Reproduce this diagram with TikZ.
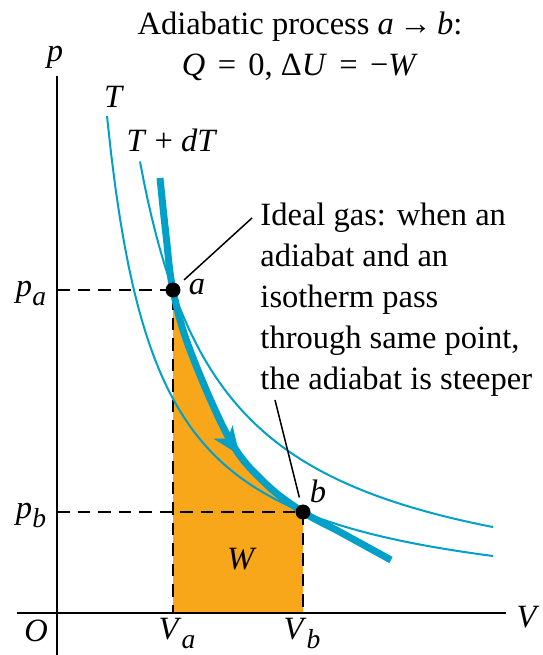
\documentclass[tikz,border=0pt]{standalone}
\usepackage{fontspec}
\setmainfont{Liberation Serif}
\usetikzlibrary{arrows.meta,decorations.markings}
\definecolor{isoblue}{RGB}{0,160,200}
\definecolor{workfill}{RGB}{248,166,26}
\newcommand{\sublbl}[1]{\raisebox{-3.5pt}{\fontsize{11}{11}\selectfont\textit{#1}}}
\newcommand{\eqsp}{\hspace{0.38em}}

\begin{document}
\begin{tikzpicture}[
  x=0.4pt, y=0.4pt,
  font=\fontsize{13}{16.4}\selectfont,
  >=Stealth,
  axis/.style={line width=0.8pt},
  iso/.style={isoblue, line width=0.8pt},
  adia/.style={isoblue, line width=2.8pt},
  guide/.style={line width=0.8pt, dash pattern=on 5pt off 3.2pt},
  dot/.style={circle, fill=black, inner sep=0pt, minimum size=6pt},
  lead/.style={line width=0.6pt, shorten >=6pt},
  lbl/.style={inner sep=0pt, anchor=base},
]
  \useasboundingbox (0,0) rectangle (542,655);

  \coordinate (O) at (57,42);
  \coordinate (ptop) at (57,579);
  \coordinate (pbot) at (57,0);
  \coordinate (Vleft) at (17,42);
  \coordinate (Vright) at (506,42);
  \coordinate (a) at (173,365);
  \coordinate (b) at (303,143);

  % work done: area under the adiabat
  \begin{scope}[shift={(O)}]
    \fill[workfill] (116,0) -- plot[domain=116:246, samples=40]
      (\x,{101*(246/\x)^1.5465}) -- (246,0) -- cycle;
  \end{scope}

  % dashed guides to the axes
  \draw[guide] (a -| ptop) -- (a) -- (a |- O);
  \draw[guide] (b -| ptop) -- (b) -- (b |- O);

  % isotherms T and T + dT, then the adiabat a -> b
  \begin{scope}[shift={(O)}]
    \draw[iso] plot[domain=50:436, samples=90] (\x,{248.46*(100/\x)});
    \draw[iso] plot[domain=83:436, samples=90] (\x,{374.68*(100/\x)});
    \draw[adia, postaction={decorate}, decoration={markings,
        mark=at position 0.61 with {\arrow{Stealth[length=11pt, width=9pt, inset=3pt]}}}]
      plot[smooth, tension=0.6] coordinates {(103,435) (109,378) (116,323)
        (133,263) (173,173) (208,130) (246,101) (283,81) (334,53)};
  \end{scope}

  % axes
  \draw[axis] (pbot) -- (ptop);
  \draw[axis] (Vleft) -- (Vright);

  \node[dot] (adot) at (a) {};
  \node[dot] (bdot) at (b) {};

  % note and its leaders
  \node[inner sep=0pt, anchor=north west, align=left] (note) at (260,453)
    {Ideal gas: when an\\ adiabat and an\\ isotherm pass\\
     through same point,\\ the adiabat is steeper};
  \coordinate (aleader) at (252,437);
  \coordinate (bleader) at (275,255);
  \draw[lead] (aleader) -- (a);
  \draw[lead] (bleader) -- (b);

  % labels
  \node[lbl] (title1) at (300,620) {Adiabatic process \textit{a}\,→\,\textit{b}:};
  \node[lbl] (title2) at (300,579)
    {\textit{Q}\eqsp=\eqsp0, Δ\textit{U}\eqsp=\eqsp−\textit{W}};
  \node[lbl] (plabel) at (55,593) {\textit{p}};
  \node[lbl] (Vlabel) at (528,28) {\textit{V}};
  \node[lbl] (Olabel) at (36,13) {\textit{O}};
  \node[lbl] (Valabel) at (177,15) {\textit{V}\sublbl{a}};
  \node[lbl] (Vblabel) at (302,15) {\textit{V}\sublbl{b}};
  \node[lbl] (palabel) at (31,358) {\textit{p}\sublbl{a}};
  \node[lbl] (pblabel) at (31,136) {\textit{p}\sublbl{b}};
  \node[lbl] (alabel) at (197,360) {\textit{a}};
  \node[lbl] (blabel) at (318,153) {\textit{b}};
  \node[lbl] (Wlabel) at (242,86) {\textit{W}};
  \node[lbl] (Tlabel) at (114,547) {\textit{T}};
  \node[lbl] (TdTlabel) at (172,503) {\textit{T} + \textit{dT}};
\end{tikzpicture}
\end{document}
